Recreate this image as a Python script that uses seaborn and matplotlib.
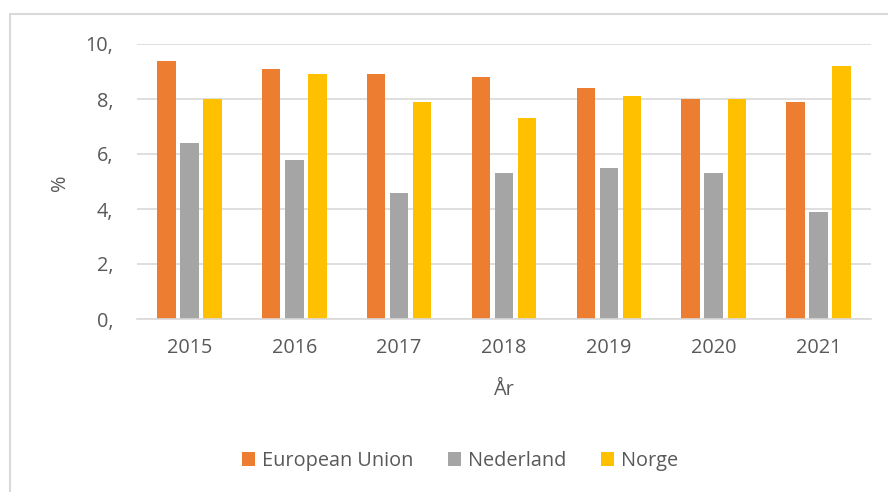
import matplotlib
matplotlib.use("Agg")
import matplotlib.pyplot as plt
import seaborn as sns
import pandas as pd
from matplotlib.lines import Line2D
from matplotlib.patches import Patch

years = ["2015", "2016", "2017", "2018", "2019", "2020", "2021"]
series = ["European Union", "Nederland", "Norge"]
eu = [9.4, 9.1, 8.9, 8.8, 8.4, 8.0, 7.9]
nl = [6.4, 5.8, 4.6, 5.3, 5.5, 5.3, 3.9]
no = [8.0, 8.9, 7.9, 7.3, 8.1, 8.0, 9.2]
yticks = [0, 2, 4, 6, 8, 10]
ytick_labels = ["0,", "2,", "4,", "6,", "8,", "10,"]
colors = ["#ED7D31", "#A5A5A5", "#FFC000"]

df = pd.DataFrame({
    "År": years * 3,
    "value": eu + nl + no,
    "serie": [series[0]] * 7 + [series[1]] * 7 + [series[2]] * 7,
})

sns.set_theme(style="white")
plt.rcParams["font.family"] = ["Open Sans", "DejaVu Sans"]
text_c = "#595959"
grid_c = "#D9D9D9"
fs = 14.3

fig = plt.figure(figsize=(8.88, 4.92), dpi=100)
ax = fig.add_axes([137 / 888, 1 - 319 / 492, (871 - 137) / 888, (319 - 44) / 492])

sns.barplot(data=df, x="År", y="value", hue="serie", palette=colors,
            width=0.66, gap=0.2, ax=ax, legend=False, saturation=1,
            edgecolor="none")

ax.set_ylim(0, 10)
ax.set_xlim(-0.5, 6.5)
ax.set_yticks(yticks)
ax.set_yticklabels(ytick_labels)
ax.yaxis.grid(True, color=grid_c, linewidth=1.2)
ax.set_axisbelow(True)
for s in ["top", "right", "left"]:
    ax.spines[s].set_visible(False)
ax.spines["bottom"].set_color(grid_c)
ax.spines["bottom"].set_linewidth(1.2)
ax.tick_params(axis="both", length=0, labelsize=fs, colors=text_c)
ax.tick_params(axis="y", pad=17)
ax.tick_params(axis="x", pad=14)
ax.set_xlabel("År", fontsize=fs, color=text_c, va="center")
ax.set_ylabel("%", fontsize=fs, color=text_c, va="center")
ax.xaxis.set_label_coords(0.5, (319 - 390) / 275)
ax.yaxis.set_label_coords((60 - 137) / 734, (319 - 183) / 275)

handles = [Patch(facecolor=c, edgecolor="none") for c in colors]
fig.legend(handles, series, loc="center", bbox_to_anchor=(460 / 888, 1 - 461 / 492),
           ncol=3, frameon=False, fontsize=fs, handlelength=0.7, handleheight=0.7,
           handletextpad=0.35, columnspacing=1.7, labelcolor=text_c)

# chart frame (left and top edges visible)
fig.add_artist(Line2D([10 / 888, 10 / 888], [0, 1 - 14 / 492], transform=fig.transFigure,
                      color=grid_c, linewidth=1.5))
fig.add_artist(Line2D([10 / 888, 1], [1 - 14 / 492, 1 - 14 / 492], transform=fig.transFigure,
                      color=grid_c, linewidth=1.5))

fig.savefig("out.png", dpi=100, facecolor="white")
